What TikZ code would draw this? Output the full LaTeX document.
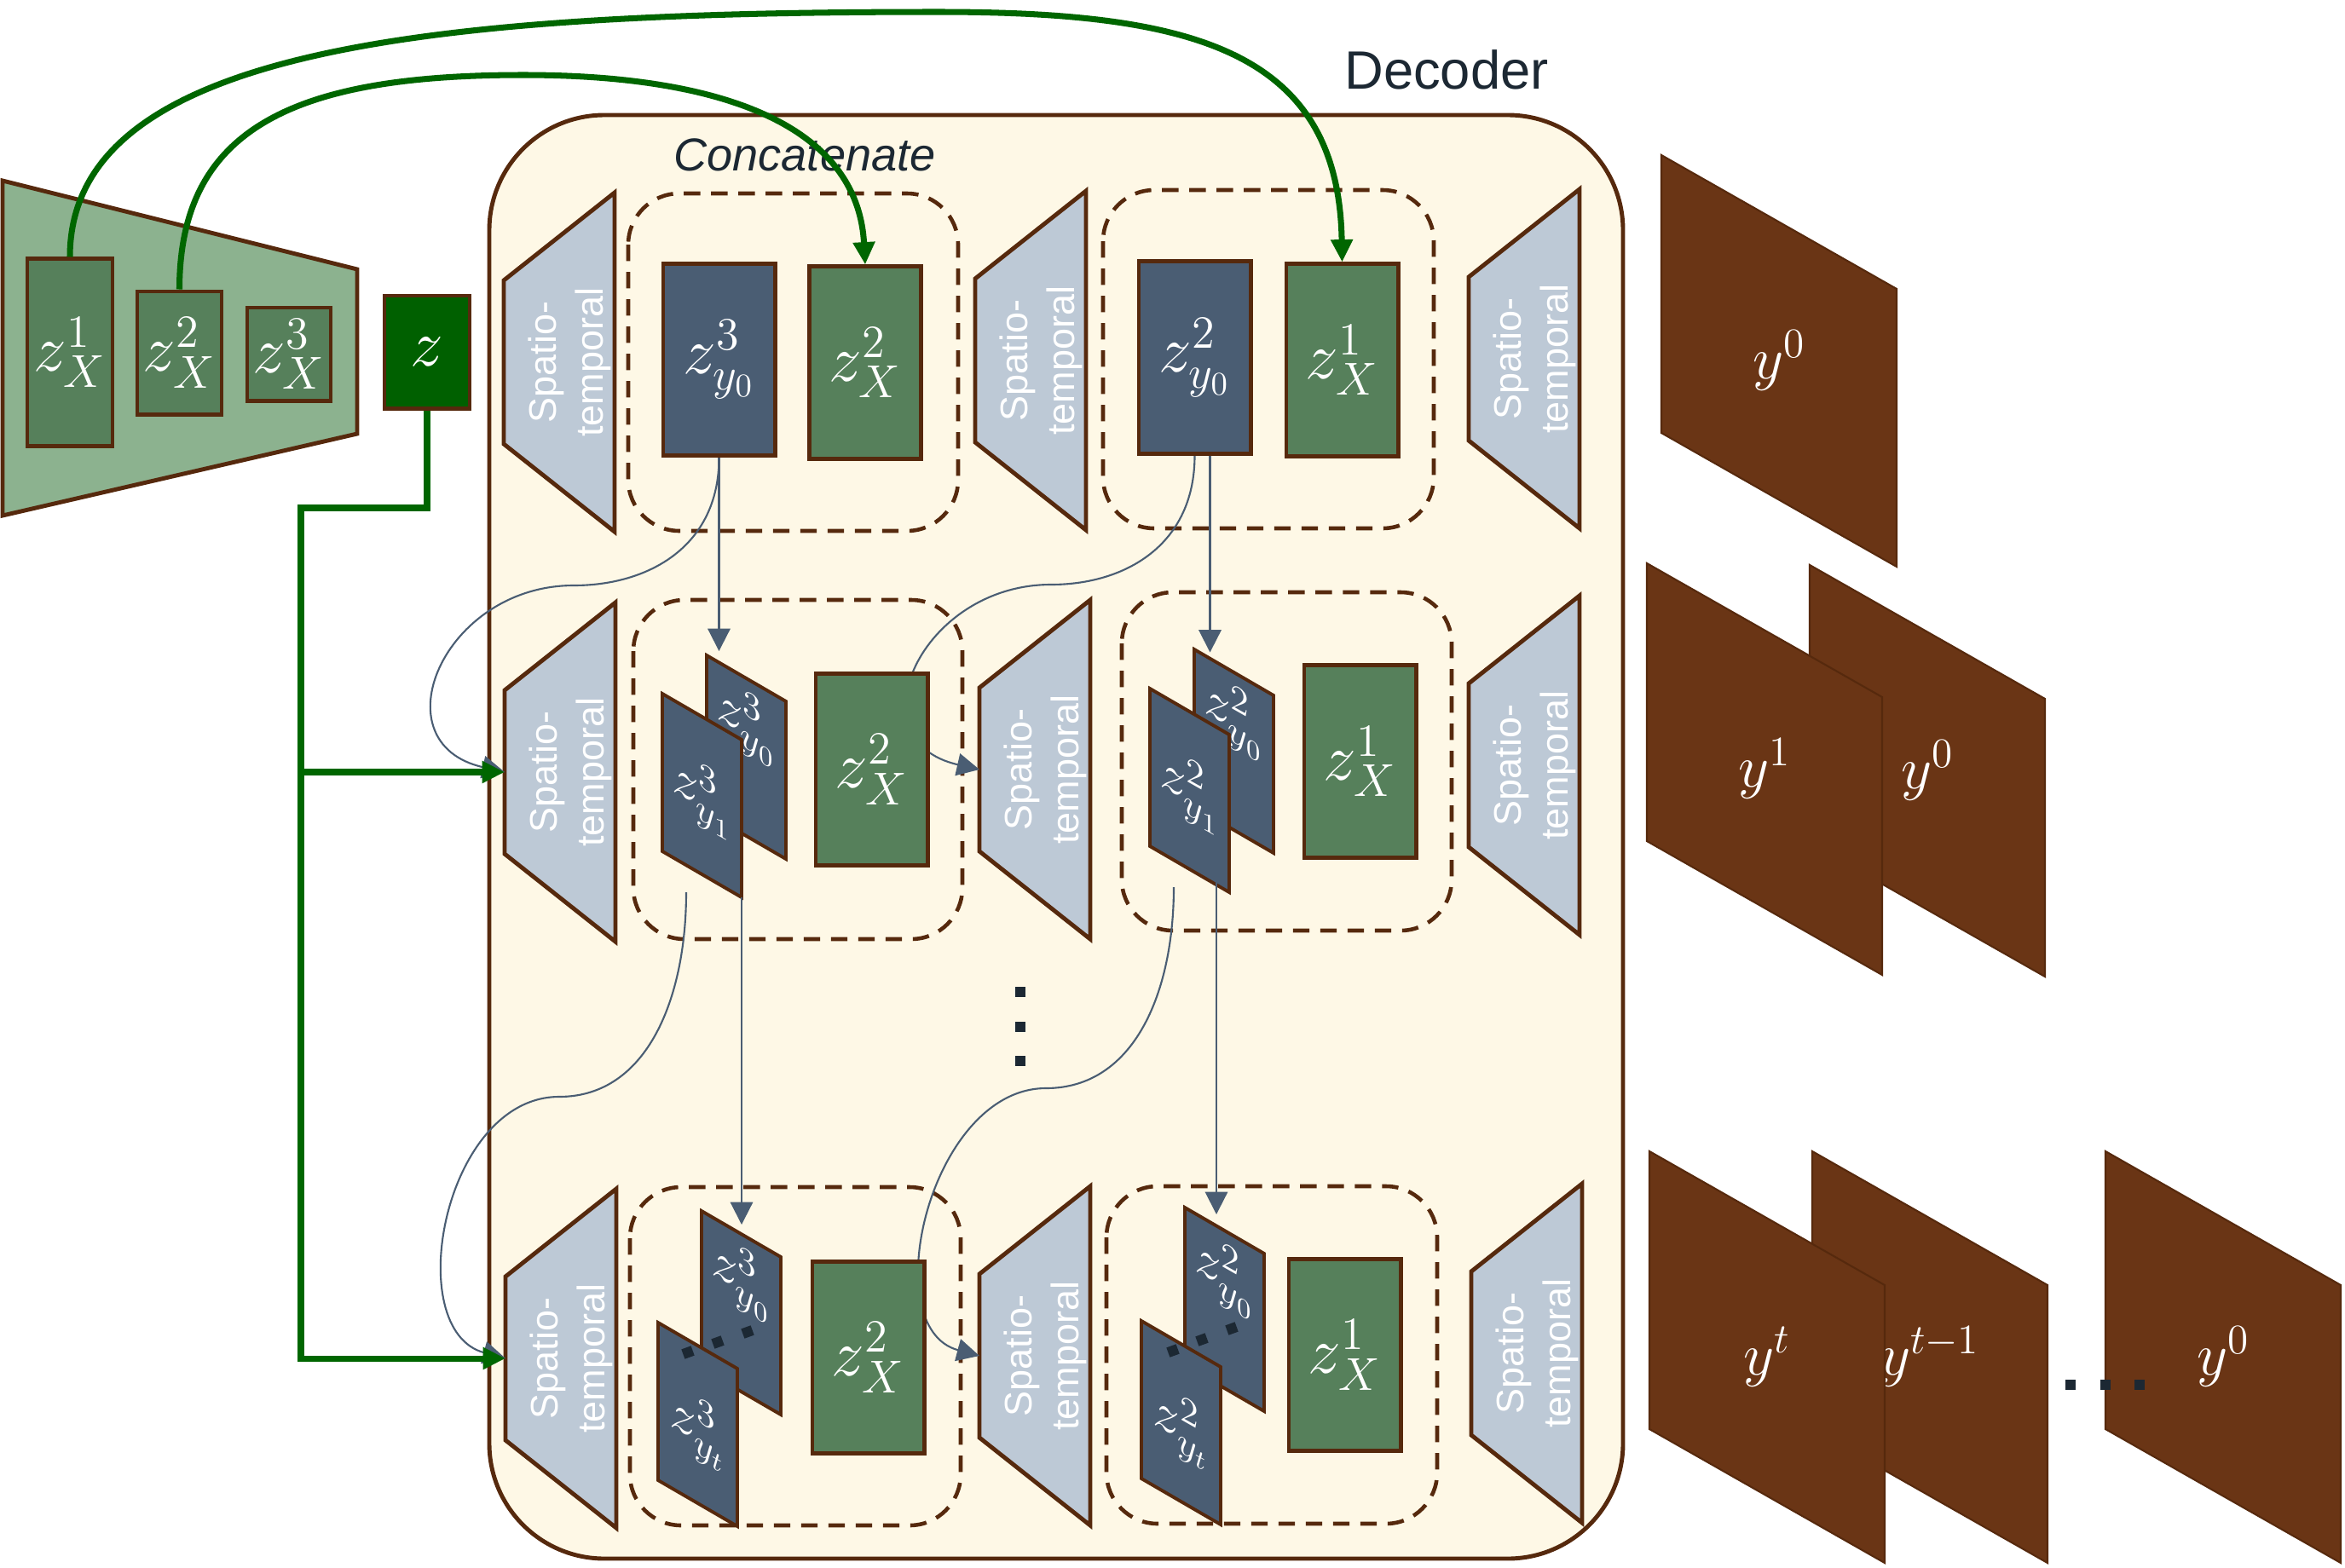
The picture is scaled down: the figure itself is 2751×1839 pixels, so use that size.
\RequirePackage{fix-cm}
\documentclass[tikz,border=0pt]{standalone}
\usepackage[no-math]{fontspec}
\newfontfamily\labelfont{Liberation Sans}
\usetikzlibrary{arrows.meta}

\definecolor{edgebrown}{HTML}{56290D}
\definecolor{encgreen}{HTML}{8CB28F}
\definecolor{featgreen}{HTML}{56805B}
\definecolor{latentgreen}{HTML}{006000}
\definecolor{skipgreen}{HTML}{006600}
\definecolor{statenavy}{HTML}{4A5D73}
\definecolor{stgrey}{HTML}{BDC9D6}
\definecolor{deccream}{HTML}{FEF8E6}
\definecolor{outbrown}{HTML}{6A3515}
\definecolor{inkdark}{HTML}{1C2833}

\pgfdeclarelayer{frame}
\pgfdeclarelayer{wires}
\pgfsetlayers{frame,wires,main}

\tikzset{
	brownedge/.style={draw=edgebrown, line width=1.4pt},
	featbox/.style={brownedge, fill=featgreen, inner sep=0pt, text=white, minimum width=1.31cm, minimum height=2.25cm, font=\fontsize{22}{22}\selectfont},
	statebox/.style={featbox, fill=statenavy},
	catbox/.style={draw=edgebrown, line width=1.3pt, dash pattern=on 5.5pt off 3.6pt, rounded corners=0.6cm},
	stlabel/.style={text=white, align=center, rotate=90, inner sep=0pt, font=\labelfont\fontsize{12.8}{15.6}\selectfont},
	planelabel/.style={text=white, inner sep=0pt, yslant=-0.57, transform shape, font=\fontsize{18}{18}\selectfont},
	outlabel/.style={text=white, inner sep=0pt, font=\fontsize{20}{20}\selectfont},
	skiparrow/.style={draw=skipgreen, line width=2pt, -{Triangle[width=7pt,length=7.5pt]}},
	flowarrow/.style={draw=statenavy, line width=0.6pt, -{Triangle[width=7.5pt,length=7.5pt]}}
}

% spatio-temporal block: name, left x, centre y
\newcommand{\stblock}[3]{%
	\draw[brownedge, fill=stgrey] (#2,#3-96) -- (#2+130,#3-199) -- (#2+130,#3+199) -- (#2,#3+96) -- cycle;
	\coordinate (#1) at (#2,#3);
	\node[stlabel] (#1-txt) at (#2+77,#3) {Spatio-\\temporal};}

% slanted state plane: name, x, y (top left), label offset, label
\newcommand{\zplane}[5]{%
	\draw[brownedge, line width=1.1pt, fill=statenavy] (#2,#3) -- (#2+93,#3+54) -- (#2+93,#3+239) -- (#2,#3+185) -- cycle;
	\coordinate (#1-out) at (#2+28,#3+233);
	\coordinate (#1-br) at (#2+93,#3+239);
	\node[planelabel] (#1) at (#2+46,#3+#4) {#5};}

% output frame: name, x, y (top left), label
\newcommand{\yplane}[4]{%
	\draw[draw=edgebrown, line width=0.6pt, fill=outbrown] (#2,#3) -- (#2+276,#3+157) -- (#2+276,#3+483) -- (#2,#3+326) -- cycle;
	\node[outlabel] (#1) at (#2+138,#3+241) {#4};}

\begin{document}
\begin{tikzpicture}[x=0.01cm, y=-0.01cm]
			\useasboundingbox (0,0) rectangle (2751,1839);

			\begin{pgfonlayer}{frame}
			\draw[brownedge, fill=deccream, rounded corners=1.35cm] (574,135) rectangle (1904,1829);
			\draw[catbox] (737,227) rectangle (1124,623);
			\draw[catbox] (1294,223) rectangle (1682,620);
			\draw[catbox] (743,704) rectangle (1129,1102);
			\draw[catbox] (1316,695) rectangle (1703,1092);
			\draw[catbox] (739,1393) rectangle (1127,1790);
			\draw[catbox] (1298,1392) rectangle (1686,1788);
			\stblock{sA1}{591}{425} \stblock{sB1}{1144}{423} \stblock{sC1}{1723}{421}
			\stblock{sA2}{592}{906} \stblock{sB2}{1149}{903} \stblock{sC2}{1723}{898}
			\stblock{sA3}{593}{1594} \stblock{sB3}{1149}{1591} \stblock{sC3}{1726}{1588}
			\end{pgfonlayer}

			\node[font=\labelfont\fontsize{18}{18}\selectfont, text=inkdark] (declbl) at (1697,82) {Decoder};
			\node[font=\labelfont\itshape\fontsize{15.4}{15.4}\selectfont, text=inkdark] (catlbl) at (944,182) {Concatenate};

			% encoder
			\draw[brownedge, fill=encgreen] (3,212) -- (419,316) -- (419,509) -- (3,605) -- cycle;
			\node[featbox, minimum width=1.00cm, minimum height=2.19cm] (ex1) at (82,413.5) {$z^{1}_{X}$};
			\node[featbox, minimum width=0.99cm, minimum height=1.44cm] (ex2) at (210.5,414) {$z^{2}_{X}$};
			\node[featbox, minimum width=0.98cm, minimum height=1.09cm] (ex3) at (339,415.5) {$z^{3}_{X}$};
			\node[featbox, fill=latentgreen, minimum width=1.00cm, minimum height=1.32cm] (zz) at (501,413) {$z$};

			% decoder rows
			\node[statebox] (a1y) at (843.5,422) {$z^{3}_{y_{0}}$};
			\node[featbox] (a1x) at (1015,425.5) {$z^{2}_{X}$};
			\node[statebox] (b1y) at (1401.5,419.5) {$z^{2}_{y_{0}}$};
			\node[featbox] (b1x) at (1574.5,422.5) {$z^{1}_{X}$};

			\zplane{a2back}{829}{769}{80}{$z^{3}_{y_{0}}$}
			\zplane{a2front}{777}{814}{120}{$z^{3}_{y_{1}}$}
			\node[featbox] (a2x) at (1022.5,903) {$z^{2}_{X}$};
			\zplane{b2back}{1401}{762}{80}{$z^{2}_{y_{0}}$}
			\zplane{b2front}{1349}{808}{120}{$z^{2}_{y_{1}}$}
			\node[featbox] (b2x) at (1595.5,893.5) {$z^{1}_{X}$};

			\zplane{a3back}{823}{1421}{80}{$z^{3}_{y_{0}}$}
			\zplane{a3front}{772}{1552}{125}{$z^{3}_{y_{t}}$}
			\node[featbox] (a3x) at (1018.5,1593) {$z^{2}_{X}$};
			\zplane{b3back}{1390}{1417}{80}{$z^{2}_{y_{0}}$}
			\zplane{b3front}{1339}{1550}{125}{$z^{2}_{y_{t}}$}
			\node[featbox] (b3x) at (1577.5,1590) {$z^{1}_{X}$};

			\foreach \dx/\dy in {807/1587, 842/1575, 877/1563, 1376/1585, 1410/1572, 1445/1559}
				\fill[inkdark, rotate around={20:(\dx,\dy)}] (\dx-6,\dy-6) rectangle (\dx+6,\dy+6);
			\foreach \dy in {1164,1205,1245}
				\fill[inkdark] (1191,\dy-6) rectangle (1203,\dy+6);

			% outputs
			\yplane{yA0}{1949}{182}{$y^{0}$}
			\yplane{yB0}{2123}{663}{$y^{0}$}
			\yplane{yB1}{1932}{661}{$y^{1}$}
			\yplane{yC0}{2470}{1351}{$y^{0}$}
			\yplane{yC1}{2126}{1351}{$y^{t-1}$}
			\yplane{yCt}{1935}{1351}{$y^{t}$}
			\foreach \dx in {2429,2470,2510}
				\fill[inkdark] (\dx-6,1619) rectangle (\dx+6,1631);

			% connections
			\begin{pgfonlayer}{wires}
			\draw[flowarrow] (a1y.south) .. controls +(0,105) and +(87,0) .. (673,687) .. controls +(-153,0) and +(-150,-34) .. (sA2);
			\draw[flowarrow] (b1y.south) .. controls +(0,105) and +(87,0) .. (1233,686) .. controls +(-153,0) and +(-150,-34) .. (sB2);
			\draw[flowarrow] (a2front-out) .. controls +(0,123) and +(104,0) .. (656,1287) .. controls +(-136,0) and +(-123,-33) .. (sA3);
			\draw[flowarrow] (b2front-out) .. controls +(0,123) and +(104,0) .. (1227,1277) .. controls +(-136,0) and +(-123,-33) .. (sB3);
			\end{pgfonlayer}
			\draw[flowarrow] (a1y.south) -- ++(0,227);
			\draw[flowarrow] ([xshift=0.18cm]b1y.south) -- ++(0,231);
			\draw[flowarrow] (a2front-br) -- ++(0,384);
			\draw[flowarrow] ([shift={(-15,-47)}]b2front-br) -- ++(0,425);

			\draw[skiparrow] (ex1.north) .. controls +(0,-244) and (500,14) .. (1100,14) .. controls (1400,14) and +(-4,-248) .. (b1x.north);
			\draw[skiparrow] (ex2.north) .. controls +(0,-192) and (350,88) .. (614,88) .. controls (850,88) and +(-9,-162) .. (a1x.north);
			\coordinate (zbend) at (353,596);
			\draw[skiparrow] (zz.south) |- (zbend) |- (sA3);
			\draw[skiparrow] (zbend |- sA2) -- (sA2);
\end{tikzpicture}
\end{document}
